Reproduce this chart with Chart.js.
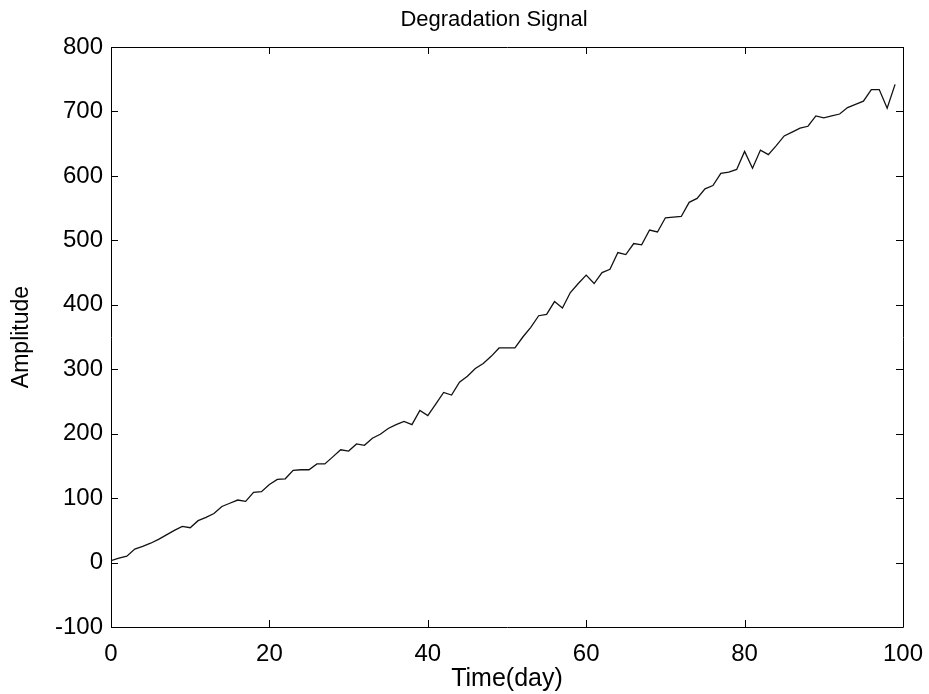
<!DOCTYPE html>
<html>
<head>
<meta charset="utf-8">
<script src="https://cdn.jsdelivr.net/npm/chart.js@4.4.1/dist/chart.umd.min.js"></script>
<style>
html,body{margin:0;padding:0;background:#fff;}
#wrap{width:929px;height:694px;position:relative;}
</style>
</head>
<body>
<div id="wrap"><canvas id="c" width="929" height="694"></canvas></div>
<script>
const days = [0,1,2,3,4,5,6,7,8,9,10,11,12,13,14,15,16,17,18,19,20,21,22,23,24,25,26,27,28,29,30,31,32,33,34,35,36,37,38,39,40,41,42,43,44,45,46,47,48,49,50,51,52,53,54,55,56,57,58,59,60,61,62,63,64,65,66,67,68,69,70,71,72,73,74,75,76,77,78,79,80,81,82,83,84,85,86,87,88,89,90,91,92,93,94,95,96,97,98,99];
const amplitude = [3,7,10,21,25,30,36,43,50,56,54,65,70,76,87,92,97,95,109,110,121,129,130,143,144,144,153,153,164,175,173,184,182,193,199,208,214,219,214,236,228,246,264,260,280,289,301,309,320,333,333,333,350,365,383,385,405,395,419,433,446,433,450,455,481,478,495,493,516,513,535,536,537,559,565,580,585,604,606,610,638,612,640,633,647,662,668,674,677,693,690,693,696,706,711,716,734,734,705,742];
const xTicks = [0,20,40,60,80,100];
const yTicks = [-100,0,100,200,300,400,500,600,700,800];
const chartTitle = 'Degradation Signal';
const xLabel = 'Time(day)';
const yLabel = 'Amplitude';

const FONT = "'Liberation Sans', Arial, Helvetica, sans-serif";

const points = days.map((d, i) => ({x: d, y: amplitude[i]}));

const boxTicks = {
  id: 'boxTicks',
  afterDraw(chart) {
    const {ctx, chartArea: a, scales} = chart;
    ctx.save();
    ctx.strokeStyle = '#000';
    ctx.lineWidth = 1;
    ctx.beginPath();
    ctx.rect(Math.round(a.left) + 0.5, Math.round(a.top) + 0.5, Math.round(a.right - a.left), Math.round(a.bottom - a.top));
    ctx.stroke();
    const L = 7;
    ctx.beginPath();
    xTicks.forEach(v => {
      const px = Math.round(scales.x.getPixelForValue(v)) + 0.5;
      ctx.moveTo(px, a.bottom); ctx.lineTo(px, a.bottom - L);
      ctx.moveTo(px, a.top); ctx.lineTo(px, a.top + L);
    });
    yTicks.forEach(v => {
      const py = Math.round(scales.y.getPixelForValue(v)) + 0.5;
      ctx.moveTo(a.left, py); ctx.lineTo(a.left + L, py);
      ctx.moveTo(a.right, py); ctx.lineTo(a.right - L, py);
    });
    ctx.stroke();
    // title
    ctx.fillStyle = '#000';
    ctx.font = "22px " + FONT;
    ctx.textAlign = 'center';
    ctx.textBaseline = 'middle';
    ctx.fillText(chartTitle, 494, 20);
    ctx.restore();
  }
};

new Chart(document.getElementById('c'), {
  type: 'line',
  data: {
    datasets: [{
      data: points,
      borderColor: '#111',
      borderWidth: 1.3,
      pointRadius: 0,
      tension: 0,
      fill: false
    }]
  },
  options: {
    responsive: false,
    animation: false,
    devicePixelRatio: 1,
    layout: {padding: {top: 47, right: 26, bottom: 0, left: 0}},
    plugins: {
      legend: {display: false},
      tooltip: {enabled: false},
      title: {display: false}
    },
    scales: {
      x: {
        type: 'linear',
        min: 0, max: 100,
        afterBuildTicks(scale) { scale.ticks = xTicks.map(v => ({value: v})); },
        afterFit(scale) { scale.height = 67; scale.paddingLeft = 0; scale.paddingRight = 0; },
        grid: {display: false, drawTicks: false},
        border: {display: false},
        ticks: {color: '#000', font: {family: FONT, size: 24}, padding: 13, maxRotation: 0},
        title: {display: true, text: xLabel, color: '#000', font: {family: FONT, size: 25}, padding: {top: 3, bottom: 0}}
      },
      y: {
        type: 'linear',
        min: -100, max: 800,
        afterBuildTicks(scale) { scale.ticks = yTicks.map(v => ({value: v})); },
        afterFit(scale) { scale.width = 111; scale.paddingTop = 0; scale.paddingBottom = 0; },
        grid: {display: false, drawTicks: false},
        border: {display: false},
        ticks: {color: '#000', font: {family: FONT, size: 24}, padding: 8},
        title: {display: true, text: yLabel, color: '#000', font: {family: FONT, size: 23}, padding: {top: 8, bottom: 0}}
      }
    }
  },
  plugins: [boxTicks]
});
</script>
</body>
</html>
